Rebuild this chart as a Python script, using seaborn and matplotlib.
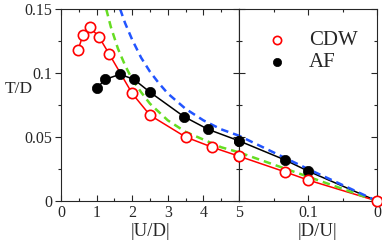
import numpy as np
import pandas as pd
import seaborn as sns
import matplotlib.pyplot as plt

# values
# left panel: |U/D| from 0 to 5
cdw_u = [0.48, 0.62, 0.81, 1.07, 1.35, 2.0, 2.5, 3.5, 4.25, 5.0]
cdw_t = [0.118, 0.130, 0.136, 0.128, 0.115, 0.084, 0.067, 0.050, 0.042, 0.035]
af_u = [1.0, 1.24, 1.66, 2.05, 2.5, 3.45, 4.13, 5.0]
af_t = [0.088, 0.095, 0.099, 0.095, 0.085, 0.066, 0.056, 0.047]
blue_u = [1.66, 1.8, 2.0, 2.25, 2.5, 2.75, 3.0, 3.5, 4.0, 4.5, 5.0]
blue_t = [0.150, 0.139, 0.126, 0.112, 0.101, 0.092, 0.084, 0.072, 0.063, 0.056, 0.051]
green_u = [1.27, 1.4, 1.6, 1.8, 2.0, 2.25, 2.5, 3.0, 3.5, 4.0, 4.5, 5.0]
green_t = [0.150, 0.136, 0.119, 0.106, 0.095, 0.085, 0.076, 0.063, 0.054, 0.048, 0.042, 0.038]

# right panel: |D/U| from 0.2 down to 0
cdw_d = [0.2, 0.133, 0.1, 0.0]
cdw_t_r = [0.035, 0.0227, 0.0164, 0.0]
af_d = [0.2, 0.133, 0.1, 0.0]
af_t_r = [0.047, 0.032, 0.0234, 0.0]
blue_d = [0.2, 0.15, 0.1, 0.05, 0.0]
blue_t_r = [0.051, 0.038, 0.025, 0.0125, 0.0]
green_d = [0.2, 0.1, 0.0]
green_t_r = [0.038, 0.019, 0.0]

yticks = [0, 0.05, 0.1, 0.15]
ytick_labels = ["0", "0.05", "0.1", "0.15"]
xticks_l = [0, 1, 2, 3, 4, 5]
xtick_labels_l = ["0", "1", "2", "3", "4", "5"]
xticks_r = [0.1, 0.0]
xtick_labels_r = ["0.1", "0"]

sns.set_theme(style="ticks")
plt.rcParams["font.family"] = ["Liberation Serif", "DejaVu Serif"]
plt.rcParams["axes.linewidth"] = 0.8

RED = "#ff0000"
BLUE = "#2255ff"
GREEN = "#66dd22"

fig = plt.figure(figsize=(3.82, 2.44), dpi=100)
ax_l = fig.add_axes([61 / 382, 43 / 244, 178 / 382, 192 / 244])
ax_r = fig.add_axes([239 / 382, 43 / 244, 138 / 382, 192 / 244])


def draw_panel(ax, x_cdw, t_cdw, x_af, t_af, x_b, t_b, x_g, t_g):
    sns.lineplot(x=x_af, y=t_af, ax=ax, color="black", lw=1.1, clip_on=False)
    sns.lineplot(x=x_cdw, y=t_cdw, ax=ax, color=RED, lw=1.1, clip_on=False)
    sns.lineplot(x=x_g, y=t_g, ax=ax, color=GREEN, lw=1.8, dashes=(3, 2))
    sns.lineplot(x=x_b, y=t_b, ax=ax, color=BLUE, lw=1.8, dashes=(3, 2))
    sns.scatterplot(x=x_af, y=t_af, ax=ax, color="black", s=55, edgecolor="black",
                    linewidth=0.5, zorder=5, clip_on=False, label="AF")
    sns.scatterplot(x=x_cdw, y=t_cdw, ax=ax, facecolor="white", edgecolor=RED,
                    s=55, linewidth=1.2, zorder=6, clip_on=False, label="CDW")
    ax.set_ylim(0, 0.15)
    ax.set_yticks(yticks)
    ax.set_yticks(np.arange(0, 0.151, 0.025), minor=True)
    ax.set_xlabel("")
    ax.set_ylabel("")
    for s in ax.spines.values():
        s.set_visible(True)
        s.set_linewidth(0.8)


draw_panel(ax_l, cdw_u, cdw_t, af_u, af_t, blue_u, blue_t, green_u, green_t)
draw_panel(ax_r, cdw_d, cdw_t_r, af_d, af_t_r, blue_d, blue_t_r, green_d, green_t_r)

# left panel axes
ax_l.set_xlim(0, 5)
ax_l.set_xticks(xticks_l)
ax_l.set_xticklabels(xtick_labels_l)
ax_l.set_xticks(np.arange(0, 5.01, 0.5), minor=True)
ax_l.set_yticklabels(ytick_labels)
ax_l.tick_params(axis="x", which="both", direction="in", top=True, bottom=True,
                 labelsize=11.5, pad=3)
ax_l.tick_params(axis="y", which="both", direction="out", left=True, right=False,
                 labelsize=11.5, pad=2)
ax_l.tick_params(which="major", length=4, width=0.8)
ax_l.tick_params(which="minor", length=2.5, width=0.8)
sec = ax_l.secondary_yaxis("right")
sec.set_yticks(yticks)
sec.set_yticks(np.arange(0, 0.151, 0.025), minor=True)
sec.tick_params(which="both", direction="in", labelright=False, width=0.8)
sec.tick_params(which="major", length=4)
sec.tick_params(which="minor", length=2.5)
ax_l.set_xlabel("|U/D|", fontsize=13.5)
ax_l.xaxis.set_label_coords(0.5, -0.115)
ax_l.xaxis.label.set_va("top")
ax_l.set_ylabel("T/D", fontsize=12.5, rotation=0)
ax_l.yaxis.set_label_coords(-0.235, 0.54)
ax_l.get_legend().remove()

# right panel axes
ax_r.set_xlim(0.2, 0.0)
ax_r.set_xticks(xticks_r)
ax_r.set_xticklabels(xtick_labels_r)
ax_r.set_xticks([0.15, 0.05], minor=True)
ax_r.set_yticklabels([])
ax_r.tick_params(axis="x", which="both", direction="in", top=True, bottom=True,
                 labelsize=11.5, pad=3)
ax_r.tick_params(axis="y", which="both", direction="in", left=True, right=True,
                 labelleft=False)
ax_r.tick_params(which="major", length=4, width=0.8)
ax_r.tick_params(which="minor", length=2.5, width=0.8)
ax_r.set_xlabel("|D/U|", fontsize=13.5)
ax_r.xaxis.set_label_coords(0.57, -0.115)
ax_r.xaxis.label.set_va("top")

handles, labels = ax_r.get_legend_handles_labels()
order = [labels.index("CDW"), labels.index("AF")]
ax_r.legend([handles[i] for i in order], [labels[i] for i in order],
            loc="upper left", bbox_to_anchor=(0.16, 0.93), frameon=False,
            fontsize=15, handlelength=0.7, handletextpad=1.2, markerscale=0.8,
            labelspacing=0.1, borderaxespad=0, borderpad=0.4)

fig.savefig("out.png", dpi=100)
